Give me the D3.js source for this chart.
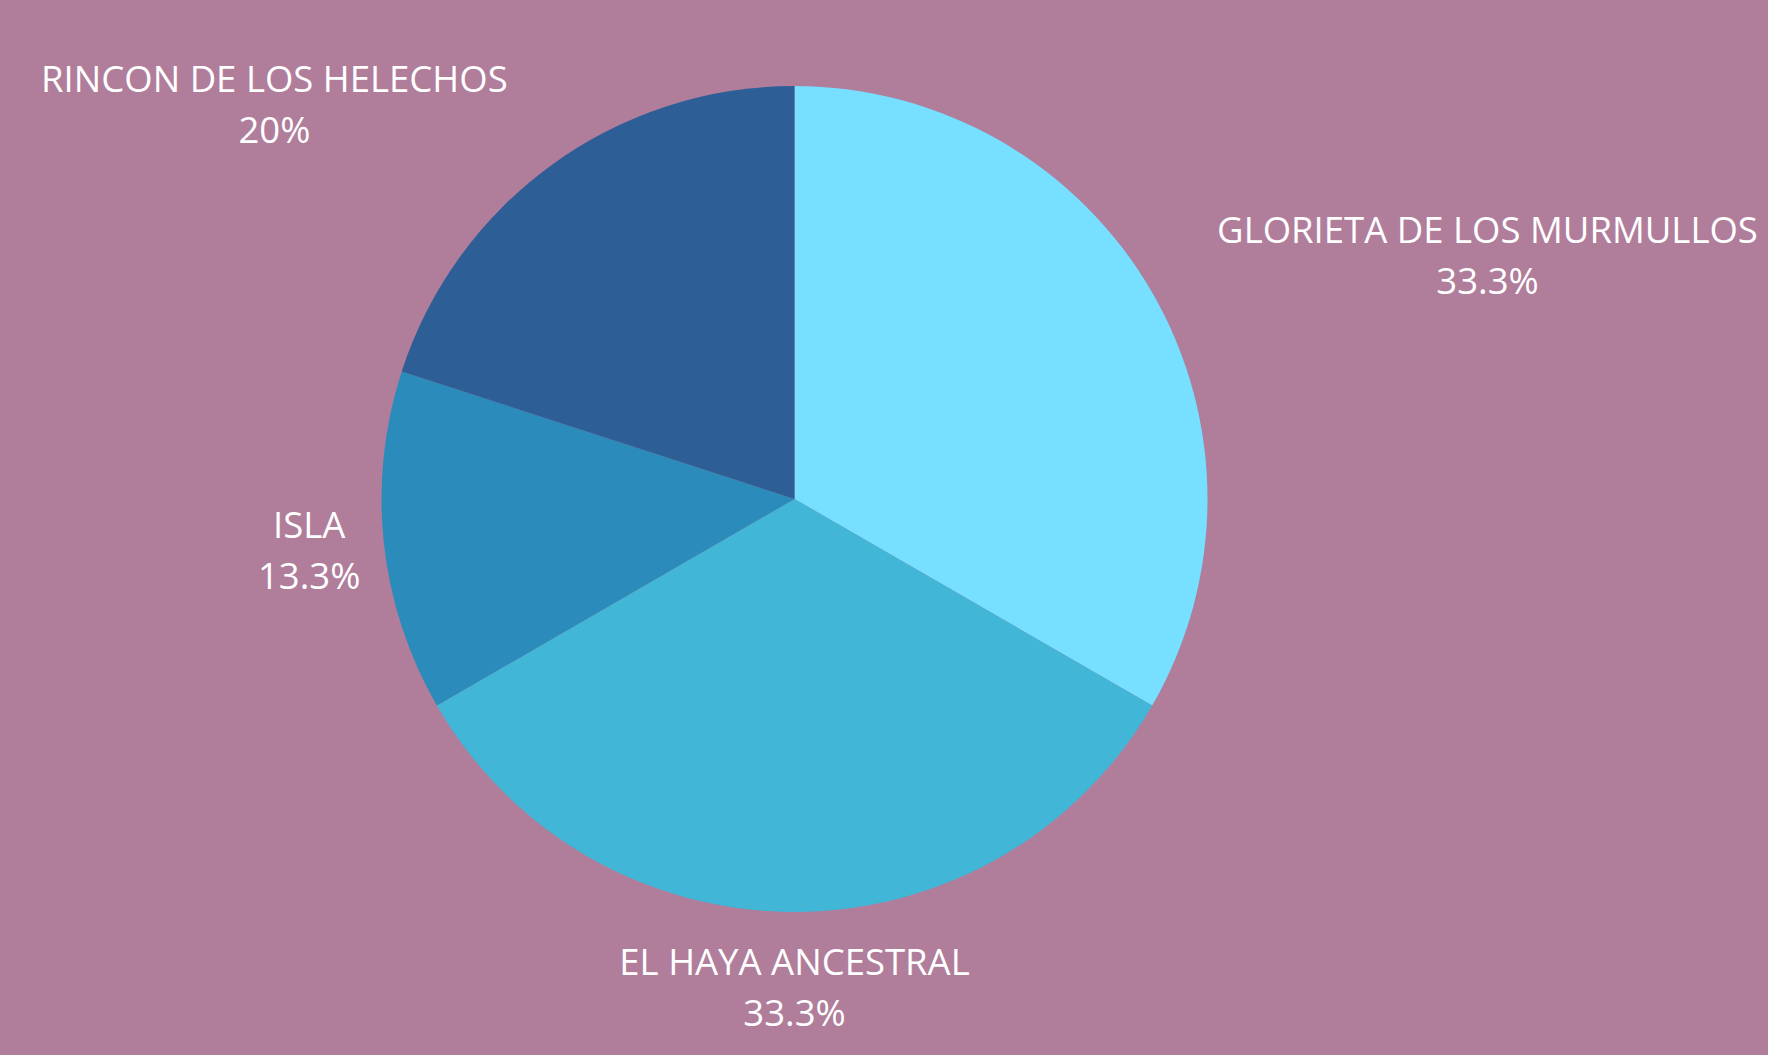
<!DOCTYPE html>
<html>
<head>
<meta charset="utf-8">
<script src="https://cdn.jsdelivr.net/npm/d3@7"></script>
<style>
  html, body { margin: 0; padding: 0; background: #B07D9B; }
  svg { display: block; }
</style>
</head>
<body>
<svg></svg>
<script>
const categories = ["GLORIETA DE LOS MURMULLOS", "EL HAYA ANCESTRAL", "ISLA", "RINCON DE LOS HELECHOS"];
const values = [5, 5, 2, 3];
const colors = ["#77DFFF", "#41B6D6", "#2B8BBA", "#2D5E96"];

const width = 1768;
const height = 1055;
const cx = 794.5;
const cy = 499;
const radius = 413;
const labelOffset = 75;
const lineGap = 51;

const data = categories.map((c, i) => ({ name: c, value: values[i] }));
const total = d3.sum(values);
const fmt = v => {
  const p = Math.round(v / total * 1000) / 10;
  return (p % 1 === 0 ? p.toFixed(0) : p.toFixed(1)) + "%";
};

const svg = d3.select("svg")
                .attr("width", width)
                .attr("height", height);

svg.append("rect")
  .attr("width", width)
  .attr("height", height)
  .attr("fill", "#B07D9B");

const pie = d3.pie()
                .sort(null)
                .value(d => d.value);

const arc = d3.arc()
                .innerRadius(0)
                .outerRadius(radius);

const arcs = pie(data);

const g = svg.append("g")
  .attr("transform", `translate(${cx},${cy})`);

g.selectAll("path")
  .data(arcs)
  .enter()
  .append("path")
    .attr("d", arc)
    .attr("fill", (d, i) => colors[i]);

// labels: block centred on the mid angle, slid sideways if it would sit on the pie
const labels = g.selectAll("g.label")
  .data(arcs)
  .enter()
  .append("g")
    .classed("label", true);

labels.each(function (d) {
  const a = (d.startAngle + d.endAngle) / 2;
  const R = radius + labelOffset;
  const x = R * Math.sin(a);
  const y = -R * Math.cos(a);

  const t = d3.select(this).append("text")
    .style("font-family", "'Open Sans', sans-serif")
    .style("font-size", "36.5px")
    .attr("fill", "#FFFFFF")
    .attr("text-anchor", "middle");

  t.append("tspan").attr("x", x).attr("y", y - 12).text(d.data.name);
  t.append("tspan").attr("x", x).attr("y", y - 12 + lineGap).text(fmt(d.data.value));

  const b = t.node().getBBox();
  const nx = Math.max(b.x, Math.min(0, b.x + b.width));
  const ny = Math.max(b.y, Math.min(0, b.y + b.height));
  if (Math.hypot(nx, ny) < radius + 10) {
    const shift = (x >= 0 ? 1 : -1) * b.width / 2;
    d3.select(this).attr("transform", `translate(${shift},0)`);
  }
});
</script>
</body>
</html>
